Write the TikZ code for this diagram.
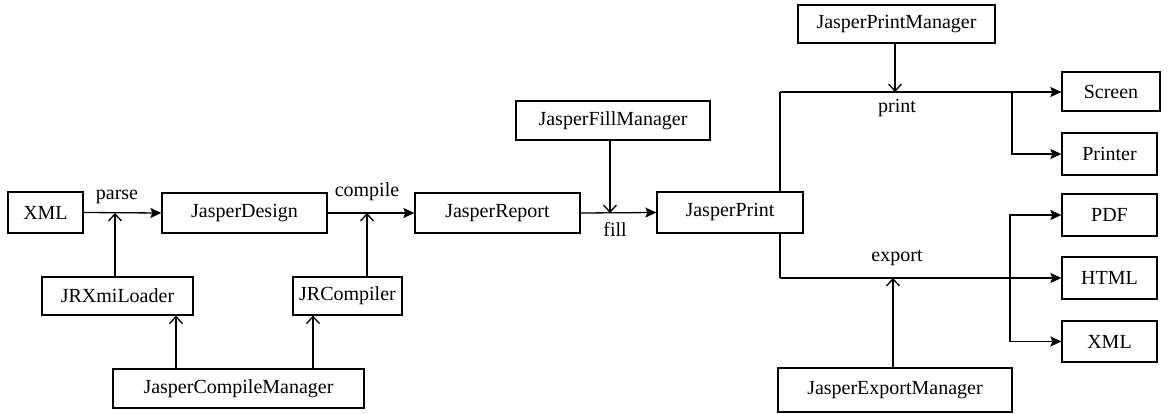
\documentclass[tikz,border=0pt]{standalone}
\usepackage{fontspec}
\setmainfont{Liberation Serif}
\usetikzlibrary{arrows.meta}
\begin{document}
\begin{tikzpicture}[x=1pt,y=-1pt,
 box/.style={draw, line width=1.3pt, inner sep=0pt, font=\fontsize{20}{22}\selectfont},
 lbl/.style={inner sep=0pt, font=\fontsize{20}{22}\selectfont},
 flow/.style={line width=1.3pt, -{Stealth[length=11pt,width=10pt,inset=2pt]}},
 mgr/.style={line width=1.3pt, -{Straight Barb[length=7pt,width=13pt]}},
 wire/.style={line width=1.3pt}]
\useasboundingbox (0,0) rectangle (1168,414);
% boxes
\node[box, minimum width=75pt,  minimum height=41pt] (xml)  at (45.5,212.5) {XML};
\node[box, minimum width=165pt, minimum height=40pt] (jd)   at (244.5,213) {JasperDesign};
\node[box, minimum width=165pt, minimum height=40pt] (jr)   at (497.5,213) {JasperReport};
\node[box, minimum width=146pt, minimum height=41pt] (jp)   at (730,212.5) {JasperPrint};
\node[box, minimum width=151pt, minimum height=38pt] (jxl)  at (117.5,296) {JRXmiLoader};
\node[box, minimum width=109pt, minimum height=38pt] (jrc)  at (347.5,296) {JRCompiler};
\node[box, minimum width=251pt, minimum height=39pt] (jcm)  at (238.5,388.5) {JasperCompileManager};
\node[box, minimum width=194pt, minimum height=39pt] (jfm)  at (613,120.5) {JasperFillManager};
\node[box, minimum width=197pt, minimum height=38pt] (jpm)  at (896.5,24) {JasperPrintManager};
\node[box, minimum width=234pt, minimum height=44pt] (jem)  at (895,390) {JasperExportManager};
\node[box, minimum width=98pt,  minimum height=39pt] (scr)  at (1111,91.5) {Screen};
\node[box, minimum width=95pt,  minimum height=42pt] (prn)  at (1109.5,154) {Printer};
\node[box, minimum width=95pt,  minimum height=42pt] (pdf)  at (1109.5,215) {PDF};
\node[box, minimum width=95pt,  minimum height=42pt] (html) at (1109.5,278) {HTML};
\node[box, minimum width=95pt,  minimum height=41pt] (xmlo) at (1109.5,341.5) {XML};
% junction points
\coordinate (pj) at (115,213);
\coordinate (cj) at (367,213);
\coordinate (fj) at (610,213);
\coordinate (prj) at (895,92);
\coordinate (exj) at (893,278);
\coordinate (ptop) at (780,92);
\coordinate (pbot) at (780,278);
\coordinate (pb) at (1012,92);
\coordinate (eb) at (1010,278);
% labels
\node[lbl] (lparse) at (117,197) {parse};
\node[lbl] (lcomp) at (367,192) {compile};
\node[lbl] (lfill) at (615,229) {fill};
\node[lbl] (lprint) at (897,108) {print};
\node[lbl] (lexp) at (897,258) {export};
% main flow
\draw[flow] (xml.east) -- (jd.west);
\draw[flow] (jd.east) -- (jr.west);
\draw[flow] (jr.east) -- (jp.west);
% managers
\draw[mgr] (jxl.north -| pj) -- (pj);
\draw[mgr] (jrc.north -| cj) -- (cj);
\draw[mgr] (jcm.north -| 176,0) -- (jxl.south -| 176,0);
\draw[mgr] (jcm.north -| 313,0) -- (jrc.south -| 313,0);
\draw[mgr] (jfm.south -| fj) -- (fj);
\draw[mgr] (jpm.south -| prj) -- (prj);
\draw[mgr] (jem.north -| exj) -- (exj);
% print branch
\draw[wire] (jp.north -| ptop) -- (ptop);
\draw[flow] (ptop) -- (scr.west |- ptop);
\draw[flow] (pb) |- (prn.west);
% export branch
\draw[wire] (jp.south -| pbot) -- (pbot);
\draw[flow] (pbot) -- (html.west |- pbot);
\draw[flow] (eb) |- (pdf.west);
\draw[flow] (eb) |- (xmlo.west);
\end{tikzpicture}
\end{document}
